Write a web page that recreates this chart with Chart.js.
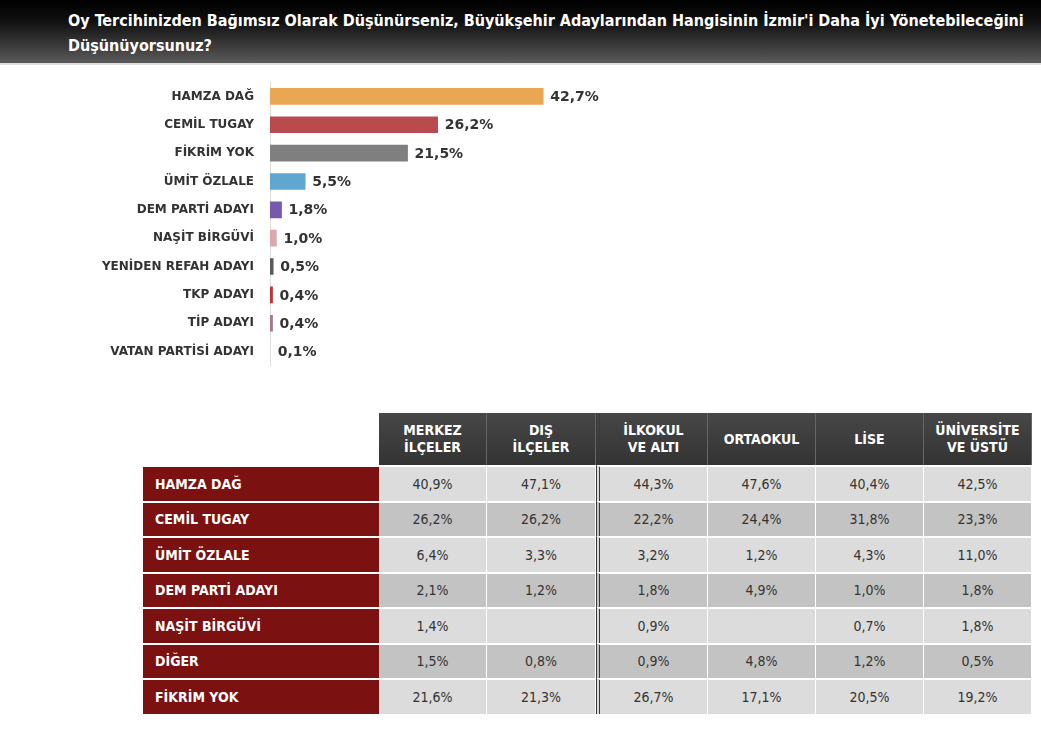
<!DOCTYPE html>
<html lang="tr">
<head>
<meta charset="UTF-8">
<title>İzmir Büyükşehir Anketi</title>
<script src="https://cdn.jsdelivr.net/npm/chart.js"></script>
<style>
    body {
        margin: 0;
        width: 1041px;
        height: 736px;
        background: #fff;
        font-family: "DejaVu Sans Condensed", "DejaVu Sans", Arial, sans-serif;
        position: relative;
        overflow: hidden;
    }
    .header {
        position: absolute;
        left: 0; top: 0;
        width: 1041px; height: 63px;
        background: linear-gradient(#000 0%, #111 35%, #5a5a5a 100%);
        border-bottom: 2px solid #ddd;
    }
    .header h1 {
        margin: 0;
        position: absolute;
        left: 68px; top: 8px;
        width: 972px;
        color: #fff;
        font-size: 16px;
        line-height: 25px;
        font-weight: bold;
    }
    #barChart {
        position: absolute;
        left: 0; top: 67px;
    }
    table {
        position: absolute;
        left: 143px; top: 413px;
        border-collapse: separate;
        border-spacing: 0;
        font-size: 14px;
    }
    th {
        background: linear-gradient(#474747, #333);
        color: #fff;
        font-weight: bold;
        height: 52px;
        padding: 0;
        text-align: center;
        line-height: 17px;
        border-right: 1px solid #666;
    }
    th.blank { background: none; border: none; }
    td {
        height: 33.5px;
        padding: 0;
        text-align: center;
        color: #333;
        border-top: 2px solid #fff;
        border-right: 1px solid #fff;
    }
    td.name {
        background: #7c1111;
        color: #fff;
        font-weight: bold;
        text-align: left;
        padding-left: 12px;
        border-right: none;
    }
    tr.odd td.val { background: #dcdcdc; }
    tr.even td.val { background: #c3c3c3; }
    .sep { border-left: 4px double #3a3a3a; }
</style>
</head>
<body>
<div class="header">
    <h1>Oy Tercihinizden Bağımsız Olarak Düşünürseniz, Büyükşehir Adaylarından Hangisinin İzmir'i Daha İyi Yönetebileceğini Düşünüyorsunuz?</h1>
</div>
<canvas id="barChart" width="700" height="314"></canvas>
<table id="crossTable"></table>

<script>
    // bar chart data
    const candidates = ['HAMZA DAĞ', 'CEMİL TUGAY', 'FİKRİM YOK', 'ÜMİT ÖZLALE', 'DEM PARTİ ADAYI',
        'NAŞİT BİRGÜVİ', 'YENİDEN REFAH ADAYI', 'TKP ADAYI', 'TİP ADAYI', 'VATAN PARTİSİ ADAYI'];
    const shares = [42.7, 26.2, 21.5, 5.5, 1.8, 1.0, 0.5, 0.4, 0.4, 0.1];
    const barColors = ['#e9a653', '#b94b4e', '#7f7f7f', '#5fa6d0', '#7858ad',
        '#dba7aa', '#5a5a5a', '#c4333c', '#a57a82', '#e2e2e2'];

    // table data
    const columns = ['MERKEZ<br>İLÇELER', 'DIŞ<br>İLÇELER', 'İLKOKUL<br>VE ALTI', 'ORTAOKUL', 'LİSE', 'ÜNİVERSİTE<br>VE ÜSTÜ'];
    const rowNames = ['HAMZA DAĞ', 'CEMİL TUGAY', 'ÜMİT ÖZLALE', 'DEM PARTİ ADAYI', 'NAŞİT BİRGÜVİ', 'DİĞER', 'FİKRİM YOK'];
    const hamza = ['40,9%', '47,1%', '44,3%', '47,6%', '40,4%', '42,5%'];
    const tugay = ['26,2%', '26,2%', '22,2%', '24,4%', '31,8%', '23,3%'];
    const ozlale = ['6,4%', '3,3%', '3,2%', '1,2%', '4,3%', '11,0%'];
    const dem = ['2,1%', '1,2%', '1,8%', '4,9%', '1,0%', '1,8%'];
    const birguvi = ['1,4%', '', '0,9%', '', '0,7%', '1,8%'];
    const diger = ['1,5%', '0,8%', '0,9%', '4,8%', '1,2%', '0,5%'];
    const fikrimYok = ['21,6%', '21,3%', '26,7%', '17,1%', '20,5%', '19,2%'];
    const tableRows = [hamza, tugay, ozlale, dem, birguvi, diger, fikrimYok];

    const fontFamily = '"DejaVu Sans", Arial, sans-serif';

    // draw value text after each bar
    const valueLabels = {
        id: 'valueLabels',
        afterDatasetsDraw(chart) {
            const ctx = chart.ctx;
            const meta = chart.getDatasetMeta(0);
            ctx.save();
            ctx.font = 'bold 14px ' + fontFamily;
            ctx.fillStyle = '#333';
            ctx.textBaseline = 'middle';
            meta.data.forEach((bar, i) => {
                const txt = shares[i].toFixed(1).replace('.', ',') + '%';
                ctx.fillText(txt, bar.x + 7, bar.y + 1);
            });
            ctx.restore();
        }
    };

    new Chart(document.getElementById('barChart'), {
        type: 'bar',
        data: {
            labels: candidates,
            datasets: [{
                data: shares,
                backgroundColor: barColors,
                barThickness: 16
            }]
        },
        options: {
            indexAxis: 'y',
            responsive: false,
            animation: false,
            layout: { padding: 0 },
            plugins: { legend: { display: false }, tooltip: { enabled: false } },
            scales: {
                x: { display: false, min: 0, max: 67.2 },
                y: {
                    afterFit(scale) { scale.width = 270; },
                    grid: { display: false },
                    border: { display: true, color: '#dddddd', width: 1 },
                    ticks: {
                        padding: 8,
                        color: '#333',
                        font: { family: fontFamily, size: 12, weight: 'bold' }
                    }
                }
            }
        },
        plugins: [valueLabels]
    });

    // build table
    const colWidths = [107, 108, 107, 107, 107, 107];
    let html = '<tr><th class="blank" style="width:236px"></th>';
    columns.forEach((c, j) => {
        html += '<th class="' + (j === 2 ? 'sep' : '') + '" style="width:' + colWidths[j] + 'px">' + c + '</th>';
    });
    html += '</tr>';
    rowNames.forEach((name, i) => {
        html += '<tr class="' + (i % 2 === 0 ? 'odd' : 'even') + '"><td class="name">' + name + '</td>';
        tableRows[i].forEach((v, j) => {
            html += '<td class="val' + (j === 2 ? ' sep' : '') + '">' + v + '</td>';
        });
        html += '</tr>';
    });
    document.getElementById('crossTable').innerHTML = html;
</script>
</body>
</html>
